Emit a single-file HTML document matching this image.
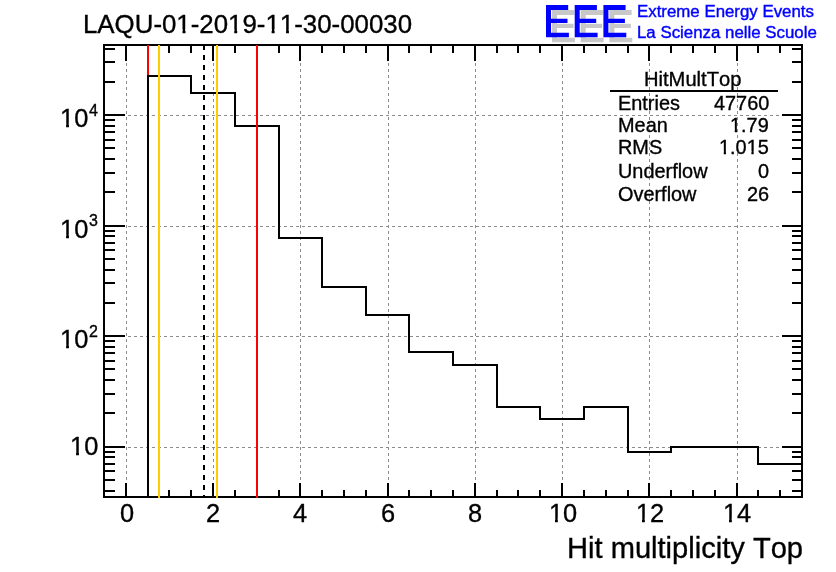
<!DOCTYPE html>
<html><head><meta charset="utf-8"><title>LAQU-01-2019-11-30-00030</title>
<style>
html,body{margin:0;padding:0;background:#fff;}
body{width:836px;height:572px;overflow:hidden;position:relative;font-family:"Liberation Sans",sans-serif;color:#000;}
svg{position:absolute;left:0;top:0;}
.t{position:absolute;white-space:nowrap;line-height:1;will-change:transform;-webkit-text-stroke:0.35px currentColor;font-kerning:none;font-feature-settings:"kern" 0,"liga" 0;}
.xl{font-size:25.4px;top:500.8px;width:60px;text-align:center;}
.yl{font-size:25.4px;}
.sup{font-size:16px;}
.st{font-size:19.9px;}
.blue{color:#0000ff;}
.o{display:inline-block;clip-path:polygon(0 0,100% 0,100% 67%,0.352em 67%,0.352em 100%,0.24em 100%,0.24em 67%,0 67%);}
</style></head><body>
<svg width="836" height="572" viewBox="0 0 836 572" shape-rendering="crispEdges">
<line x1="126.5" y1="45" x2="126.5" y2="496" stroke="#8c8c8c" stroke-width="1" stroke-dasharray="3 3"/>
<line x1="213.5" y1="45" x2="213.5" y2="496" stroke="#8c8c8c" stroke-width="1" stroke-dasharray="3 3"/>
<line x1="300.5" y1="45" x2="300.5" y2="496" stroke="#8c8c8c" stroke-width="1" stroke-dasharray="3 3"/>
<line x1="388.5" y1="45" x2="388.5" y2="496" stroke="#8c8c8c" stroke-width="1" stroke-dasharray="3 3"/>
<line x1="475.5" y1="45" x2="475.5" y2="496" stroke="#8c8c8c" stroke-width="1" stroke-dasharray="3 3"/>
<line x1="562.5" y1="45" x2="562.5" y2="496" stroke="#8c8c8c" stroke-width="1" stroke-dasharray="3 3"/>
<line x1="649.5" y1="45" x2="649.5" y2="496" stroke="#8c8c8c" stroke-width="1" stroke-dasharray="3 3"/>
<line x1="737.5" y1="45" x2="737.5" y2="496" stroke="#8c8c8c" stroke-width="1" stroke-dasharray="3 3"/>
<line x1="104" y1="447.5" x2="801" y2="447.5" stroke="#8c8c8c" stroke-width="1" stroke-dasharray="3 3"/>
<line x1="104" y1="336.5" x2="801" y2="336.5" stroke="#8c8c8c" stroke-width="1" stroke-dasharray="3 3"/>
<line x1="104" y1="226.5" x2="801" y2="226.5" stroke="#8c8c8c" stroke-width="1" stroke-dasharray="3 3"/>
<line x1="104" y1="115.5" x2="801" y2="115.5" stroke="#8c8c8c" stroke-width="1" stroke-dasharray="3 3"/>
<rect x="125" y="483" width="2" height="13" fill="#000"/>
<rect x="125" y="46" width="2" height="15" fill="#000"/>
<rect x="147" y="490" width="2" height="6" fill="#000"/>
<rect x="147" y="46" width="2" height="7" fill="#000"/>
<rect x="168" y="490" width="2" height="6" fill="#000"/>
<rect x="168" y="46" width="2" height="7" fill="#000"/>
<rect x="190" y="490" width="2" height="6" fill="#000"/>
<rect x="190" y="46" width="2" height="7" fill="#000"/>
<rect x="212" y="483" width="2" height="13" fill="#000"/>
<rect x="212" y="46" width="2" height="15" fill="#000"/>
<rect x="234" y="490" width="2" height="6" fill="#000"/>
<rect x="234" y="46" width="2" height="7" fill="#000"/>
<rect x="256" y="490" width="2" height="6" fill="#000"/>
<rect x="256" y="46" width="2" height="7" fill="#000"/>
<rect x="278" y="490" width="2" height="6" fill="#000"/>
<rect x="278" y="46" width="2" height="7" fill="#000"/>
<rect x="299" y="483" width="2" height="13" fill="#000"/>
<rect x="299" y="46" width="2" height="15" fill="#000"/>
<rect x="321" y="490" width="2" height="6" fill="#000"/>
<rect x="321" y="46" width="2" height="7" fill="#000"/>
<rect x="343" y="490" width="2" height="6" fill="#000"/>
<rect x="343" y="46" width="2" height="7" fill="#000"/>
<rect x="365" y="490" width="2" height="6" fill="#000"/>
<rect x="365" y="46" width="2" height="7" fill="#000"/>
<rect x="387" y="483" width="2" height="13" fill="#000"/>
<rect x="387" y="46" width="2" height="15" fill="#000"/>
<rect x="408" y="490" width="2" height="6" fill="#000"/>
<rect x="408" y="46" width="2" height="7" fill="#000"/>
<rect x="430" y="490" width="2" height="6" fill="#000"/>
<rect x="430" y="46" width="2" height="7" fill="#000"/>
<rect x="452" y="490" width="2" height="6" fill="#000"/>
<rect x="452" y="46" width="2" height="7" fill="#000"/>
<rect x="474" y="483" width="2" height="13" fill="#000"/>
<rect x="474" y="46" width="2" height="15" fill="#000"/>
<rect x="496" y="490" width="2" height="6" fill="#000"/>
<rect x="496" y="46" width="2" height="7" fill="#000"/>
<rect x="517" y="490" width="2" height="6" fill="#000"/>
<rect x="517" y="46" width="2" height="7" fill="#000"/>
<rect x="539" y="490" width="2" height="6" fill="#000"/>
<rect x="539" y="46" width="2" height="7" fill="#000"/>
<rect x="561" y="483" width="2" height="13" fill="#000"/>
<rect x="561" y="46" width="2" height="15" fill="#000"/>
<rect x="583" y="490" width="2" height="6" fill="#000"/>
<rect x="583" y="46" width="2" height="7" fill="#000"/>
<rect x="605" y="490" width="2" height="6" fill="#000"/>
<rect x="605" y="46" width="2" height="7" fill="#000"/>
<rect x="627" y="490" width="2" height="6" fill="#000"/>
<rect x="627" y="46" width="2" height="7" fill="#000"/>
<rect x="648" y="483" width="2" height="13" fill="#000"/>
<rect x="648" y="46" width="2" height="15" fill="#000"/>
<rect x="670" y="490" width="2" height="6" fill="#000"/>
<rect x="670" y="46" width="2" height="7" fill="#000"/>
<rect x="692" y="490" width="2" height="6" fill="#000"/>
<rect x="692" y="46" width="2" height="7" fill="#000"/>
<rect x="714" y="490" width="2" height="6" fill="#000"/>
<rect x="714" y="46" width="2" height="7" fill="#000"/>
<rect x="736" y="483" width="2" height="13" fill="#000"/>
<rect x="736" y="46" width="2" height="15" fill="#000"/>
<rect x="757" y="490" width="2" height="6" fill="#000"/>
<rect x="757" y="46" width="2" height="7" fill="#000"/>
<rect x="779" y="490" width="2" height="6" fill="#000"/>
<rect x="779" y="46" width="2" height="7" fill="#000"/>
<rect x="105" y="490" width="10" height="2" fill="#000"/>
<rect x="792" y="490" width="9" height="2" fill="#000"/>
<rect x="105" y="479" width="10" height="2" fill="#000"/>
<rect x="792" y="479" width="9" height="2" fill="#000"/>
<rect x="105" y="470" width="10" height="2" fill="#000"/>
<rect x="792" y="470" width="9" height="2" fill="#000"/>
<rect x="105" y="463" width="10" height="2" fill="#000"/>
<rect x="792" y="463" width="9" height="2" fill="#000"/>
<rect x="105" y="456" width="10" height="2" fill="#000"/>
<rect x="792" y="456" width="9" height="2" fill="#000"/>
<rect x="105" y="451" width="10" height="2" fill="#000"/>
<rect x="792" y="451" width="9" height="2" fill="#000"/>
<rect x="105" y="446" width="20" height="2" fill="#000"/>
<rect x="782" y="446" width="19" height="2" fill="#000"/>
<rect x="105" y="412" width="10" height="2" fill="#000"/>
<rect x="792" y="412" width="9" height="2" fill="#000"/>
<rect x="105" y="393" width="10" height="2" fill="#000"/>
<rect x="792" y="393" width="9" height="2" fill="#000"/>
<rect x="105" y="379" width="10" height="2" fill="#000"/>
<rect x="792" y="379" width="9" height="2" fill="#000"/>
<rect x="105" y="368" width="10" height="2" fill="#000"/>
<rect x="792" y="368" width="9" height="2" fill="#000"/>
<rect x="105" y="360" width="10" height="2" fill="#000"/>
<rect x="792" y="360" width="9" height="2" fill="#000"/>
<rect x="105" y="352" width="10" height="2" fill="#000"/>
<rect x="792" y="352" width="9" height="2" fill="#000"/>
<rect x="105" y="346" width="10" height="2" fill="#000"/>
<rect x="792" y="346" width="9" height="2" fill="#000"/>
<rect x="105" y="340" width="10" height="2" fill="#000"/>
<rect x="792" y="340" width="9" height="2" fill="#000"/>
<rect x="105" y="335" width="20" height="2" fill="#000"/>
<rect x="782" y="335" width="19" height="2" fill="#000"/>
<rect x="105" y="302" width="10" height="2" fill="#000"/>
<rect x="792" y="302" width="9" height="2" fill="#000"/>
<rect x="105" y="282" width="10" height="2" fill="#000"/>
<rect x="792" y="282" width="9" height="2" fill="#000"/>
<rect x="105" y="269" width="10" height="2" fill="#000"/>
<rect x="792" y="269" width="9" height="2" fill="#000"/>
<rect x="105" y="258" width="10" height="2" fill="#000"/>
<rect x="792" y="258" width="9" height="2" fill="#000"/>
<rect x="105" y="249" width="10" height="2" fill="#000"/>
<rect x="792" y="249" width="9" height="2" fill="#000"/>
<rect x="105" y="242" width="10" height="2" fill="#000"/>
<rect x="792" y="242" width="9" height="2" fill="#000"/>
<rect x="105" y="235" width="10" height="2" fill="#000"/>
<rect x="792" y="235" width="9" height="2" fill="#000"/>
<rect x="105" y="230" width="10" height="2" fill="#000"/>
<rect x="792" y="230" width="9" height="2" fill="#000"/>
<rect x="105" y="225" width="20" height="2" fill="#000"/>
<rect x="782" y="225" width="19" height="2" fill="#000"/>
<rect x="105" y="191" width="10" height="2" fill="#000"/>
<rect x="792" y="191" width="9" height="2" fill="#000"/>
<rect x="105" y="172" width="10" height="2" fill="#000"/>
<rect x="792" y="172" width="9" height="2" fill="#000"/>
<rect x="105" y="158" width="10" height="2" fill="#000"/>
<rect x="792" y="158" width="9" height="2" fill="#000"/>
<rect x="105" y="147" width="10" height="2" fill="#000"/>
<rect x="792" y="147" width="9" height="2" fill="#000"/>
<rect x="105" y="139" width="10" height="2" fill="#000"/>
<rect x="792" y="139" width="9" height="2" fill="#000"/>
<rect x="105" y="131" width="10" height="2" fill="#000"/>
<rect x="792" y="131" width="9" height="2" fill="#000"/>
<rect x="105" y="125" width="10" height="2" fill="#000"/>
<rect x="792" y="125" width="9" height="2" fill="#000"/>
<rect x="105" y="119" width="10" height="2" fill="#000"/>
<rect x="792" y="119" width="9" height="2" fill="#000"/>
<rect x="105" y="114" width="20" height="2" fill="#000"/>
<rect x="782" y="114" width="19" height="2" fill="#000"/>
<rect x="105" y="81" width="10" height="2" fill="#000"/>
<rect x="792" y="81" width="9" height="2" fill="#000"/>
<rect x="105" y="61" width="10" height="2" fill="#000"/>
<rect x="792" y="61" width="9" height="2" fill="#000"/>
<rect x="105" y="48" width="10" height="2" fill="#000"/>
<rect x="792" y="48" width="9" height="2" fill="#000"/>
<rect x="147" y="75" width="2" height="421" fill="#000"/>
<rect x="147" y="75" width="45" height="2" fill="#000"/>
<rect x="190" y="75" width="2" height="19" fill="#000"/>
<rect x="190" y="92" width="46" height="2" fill="#000"/>
<rect x="234" y="92" width="2" height="35" fill="#000"/>
<rect x="234" y="125" width="46" height="2" fill="#000"/>
<rect x="278" y="125" width="2" height="114" fill="#000"/>
<rect x="278" y="237" width="45" height="2" fill="#000"/>
<rect x="321" y="237" width="2" height="51" fill="#000"/>
<rect x="321" y="286" width="46" height="2" fill="#000"/>
<rect x="365" y="286" width="2" height="30" fill="#000"/>
<rect x="365" y="314" width="45" height="2" fill="#000"/>
<rect x="408" y="314" width="2" height="39" fill="#000"/>
<rect x="408" y="351" width="46" height="2" fill="#000"/>
<rect x="452" y="351" width="2" height="15" fill="#000"/>
<rect x="452" y="364" width="46" height="2" fill="#000"/>
<rect x="496" y="364" width="2" height="44" fill="#000"/>
<rect x="496" y="406" width="45" height="2" fill="#000"/>
<rect x="539" y="406" width="2" height="14" fill="#000"/>
<rect x="539" y="418" width="46" height="2" fill="#000"/>
<rect x="583" y="406" width="2" height="14" fill="#000"/>
<rect x="583" y="406" width="46" height="2" fill="#000"/>
<rect x="627" y="406" width="2" height="47" fill="#000"/>
<rect x="627" y="451" width="45" height="2" fill="#000"/>
<rect x="670" y="446" width="2" height="7" fill="#000"/>
<rect x="670" y="446" width="46" height="2" fill="#000"/>
<rect x="714" y="446" width="2" height="2" fill="#000"/>
<rect x="714" y="446" width="45" height="2" fill="#000"/>
<rect x="757" y="446" width="2" height="19" fill="#000"/>
<rect x="757" y="463" width="44" height="2" fill="#000"/>
<rect x="103" y="44" width="700" height="2" fill="#000"/>
<rect x="103" y="496" width="700" height="2" fill="#000"/>
<rect x="103" y="44" width="2" height="454" fill="#000"/>
<rect x="801" y="44" width="2" height="454" fill="#000"/>
<rect x="147" y="45" width="2" height="30" fill="#ff0000"/>
<rect x="158" y="45" width="2" height="453" fill="#ffcc00"/>
<rect x="216" y="45" width="2" height="453" fill="#ffcc00"/>
<rect x="256" y="45" width="2" height="453" fill="#ff0000"/>
<line x1="204.0" y1="45" x2="204.0" y2="498" stroke="#000" stroke-width="2" stroke-dasharray="5 5"/>
<g shape-rendering="geometricPrecision" fill="#c8c8c8"><path d="M552 10h22.2v4.9h-17.2v8.9h16.5v4.3h-16.5v9.7h17.9v4.4h-22.9z"/></g>
<g shape-rendering="geometricPrecision" fill="#c8c8c8"><path d="M580.7 10h22.2v4.9h-17.2v8.9h16.5v4.3h-16.5v9.7h17.9v4.4h-22.9z"/></g>
<g shape-rendering="geometricPrecision" fill="#c8c8c8"><path d="M609.4 10h22.2v4.9h-17.2v8.9h16.5v4.3h-16.5v9.7h17.9v4.4h-22.9z"/></g>
<g shape-rendering="geometricPrecision" fill="#0000ff"><path d="M546 5h22.2v4.9h-17.2v8.9h16.5v4.3h-16.5v9.7h17.9v4.4h-22.9z"/></g>
<g shape-rendering="geometricPrecision" fill="#0000ff"><path d="M574.7 5h22.2v4.9h-17.2v8.9h16.5v4.3h-16.5v9.7h17.9v4.4h-22.9z"/></g>
<g shape-rendering="geometricPrecision" fill="#0000ff"><path d="M603.4 5h22.2v4.9h-17.2v8.9h16.5v4.3h-16.5v9.7h17.9v4.4h-22.9z"/></g>
</svg>
<div class="t" id="title" style="left:83px;top:12px;font-size:25.85px;">LAQU-0<span class="o">1</span>-20<span class="o">1</span>9-<span class="o">1</span><span class="o">1</span>-30-00030</div>
<div class="t blue" id="l1" style="left:636.6px;top:3.8px;-webkit-text-stroke-width:0.42px;font-size:16.85px;">Extreme Energy Events</div>
<div class="t blue" id="l2" style="left:636.6px;top:25px;-webkit-text-stroke-width:0.42px;font-size:16.85px;">La Scienza nelle Scuole</div>
<div class="t xl" style="left:96.5px;">0</div>
<div class="t xl" style="left:183.0px;">2</div>
<div class="t xl" style="left:270.2px;">4</div>
<div class="t xl" style="left:358.3px;">6</div>
<div class="t xl" style="left:444.8px;">8</div>
<div class="t xl" style="left:532.8px;"><span class="o">1</span>0</div>
<div class="t xl" style="left:620.0px;"><span class="o">1</span>2</div>
<div class="t xl" style="left:707.3px;"><span class="o">1</span>4</div>
<div class="t yl" id="y4" style="left:60.0px;top:106.4px;"><span class="o">1</span>0</div><div class="t sup" id="s4" style="left:88.6px;top:102.9px;">4</div>
<div class="t yl" id="y3" style="left:60.0px;top:216.9px;"><span class="o">1</span>0</div><div class="t sup" id="s3" style="left:88.6px;top:213.4px;">3</div>
<div class="t yl" id="y2" style="left:60.0px;top:327.4px;"><span class="o">1</span>0</div><div class="t sup" id="s2" style="left:88.6px;top:323.9px;">2</div>
<div class="t yl" id="y1" style="left:69.5px;top:434.1px;"><span class="o">1</span>0</div>
<div class="t" id="xt" style="right:33px;top:533.5px;font-size:29.1px;">Hit multiplicity Top</div>
<div class="t" id="sth" style="left:643.5px;top:69px;font-size:20.15px;">HitMultTop</div>
<div class="t st" id="sl0" style="left:618.3px;top:94.0px;">Entries</div><div class="t st" id="sr0" style="right:67px;top:94.0px;">47760</div>
<div class="t st" id="sl1" style="left:618.3px;top:115.5px;">Mean</div><div class="t st" id="sr1" style="right:67px;top:115.5px;"><span class="o">1</span>.79</div>
<div class="t st" id="sl2" style="left:618.3px;top:138.3px;">RMS</div><div class="t st" id="sr2" style="right:67px;top:138.3px;"><span class="o">1</span>.0<span class="o">1</span>5</div>
<div class="t st" id="sl3" style="left:618.3px;top:161.5px;">Underflow</div><div class="t st" id="sr3" style="right:67px;top:161.5px;">0</div>
<div class="t st" id="sl4" style="left:618.3px;top:185.0px;">Overflow</div><div class="t st" id="sr4" style="right:67px;top:185.0px;">26</div>
<div style="position:absolute;left:610px;top:90px;width:168px;height:2px;background:#000;"></div>
</body></html>
